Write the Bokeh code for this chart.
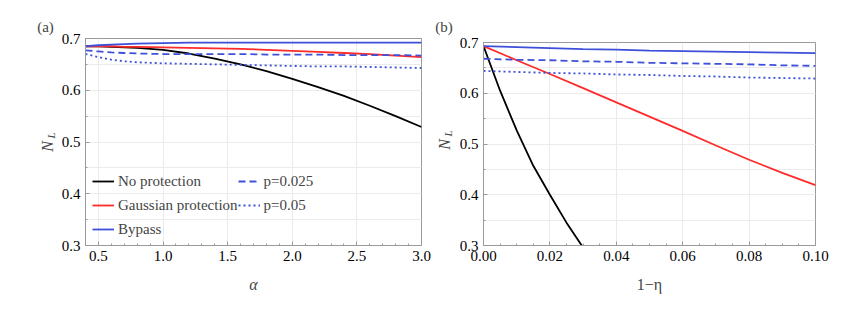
from bokeh.plotting import figure
from bokeh.models import Range1d, FixedTicker, Legend, LegendItem, Label
from bokeh.layouts import row
from bokeh.embed import file_html
from bokeh.resources import INLINE
import math

# ---------------- data: panel (a) ----------------
alpha = [0.4, 0.5, 0.6, 0.7, 0.8, 1.0, 1.2, 1.4, 1.6, 1.8, 2.0, 2.2, 2.4, 2.6, 2.8, 3.0]
a_noprot = [0.685, 0.685, 0.684, 0.683, 0.682, 0.678, 0.671, 0.661, 0.650, 0.637, 0.622, 0.606, 0.589, 0.570, 0.550, 0.529]
a_gauss = [0.685, 0.685, 0.685, 0.684, 0.684, 0.683, 0.682, 0.681, 0.680, 0.678, 0.676, 0.674, 0.672, 0.670, 0.667, 0.664]
a_bypass = [0.685, 0.687, 0.688, 0.689, 0.690, 0.691, 0.692, 0.692, 0.692, 0.692, 0.692, 0.692, 0.692, 0.692, 0.692, 0.692]
a_p025 = [0.677, 0.675, 0.673, 0.672, 0.671, 0.670, 0.670, 0.670, 0.670, 0.669, 0.669, 0.669, 0.668, 0.668, 0.668, 0.667]
a_p05 = [0.670, 0.664, 0.659, 0.656, 0.654, 0.652, 0.651, 0.650, 0.649, 0.648, 0.647, 0.646, 0.646, 0.645, 0.644, 0.643]

# ---------------- data: panel (b) ----------------
eta_black = [0.0, 0.005, 0.01, 0.015, 0.02, 0.025, 0.03]
b_noprot = [0.693, 0.605, 0.527, 0.457, 0.400, 0.345, 0.296]
eta = [0.0, 0.01, 0.02, 0.03, 0.04, 0.05, 0.06, 0.07, 0.08, 0.09, 0.10]
b_gauss = [0.693, 0.665, 0.638, 0.610, 0.582, 0.554, 0.526, 0.497, 0.469, 0.443, 0.419]
b_bypass = [0.693, 0.691, 0.689, 0.687, 0.686, 0.684, 0.683, 0.682, 0.681, 0.680, 0.679]
b_p025 = [0.668, 0.666, 0.665, 0.663, 0.662, 0.660, 0.659, 0.658, 0.657, 0.655, 0.654]
b_p05 = [0.644, 0.642, 0.640, 0.639, 0.637, 0.636, 0.634, 0.633, 0.631, 0.630, 0.629]

# ---------------- ticks ----------------
a_xticks = [0.5, 1.0, 1.5, 2.0, 2.5, 3.0]
a_xlabels = ["0.5", "1.0", "1.5", "2.0", "2.5", "3.0"]
a_xminor = [round(0.4 + 0.1 * i, 2) for i in range(27)]
b_xticks = [0.0, 0.02, 0.04, 0.06, 0.08, 0.10]
b_xlabels = ["0.00", "0.02", "0.04", "0.06", "0.08", "0.10"]
b_xminor = [round(0.005 * i, 3) for i in range(21)]
yticks = [0.3, 0.4, 0.5, 0.6, 0.7]
ylabels = ["0.3", "0.4", "0.5", "0.6", "0.7"]
yminor = [0.3, 0.35, 0.4, 0.45, 0.5, 0.55, 0.6, 0.65, 0.7]

legend_names = ["No protection", "Gaussian protection", "Bypass", "p=0.025", "p=0.05"]

BLACK = "#000000"
RED = "#ff2a2a"
BLUE = "#3e4fd9"
FRAME = "#9a9a9a"
GRID = "#ebebeb"
FONT = "'Liberation Serif', serif"
LW = 1.8
H = 317


def style(p, xt, xl, xm, xlabel):
    p.outline_line_color = FRAME
    p.outline_line_width = 1
    p.background_fill_color = "white"
    p.border_fill_color = "white"
    p.xaxis.ticker = FixedTicker(ticks=xt, minor_ticks=xm)
    p.yaxis.ticker = FixedTicker(ticks=yticks, minor_ticks=yminor)
    p.xaxis.major_label_overrides = {t: l for t, l in zip(xt, xl)}
    p.yaxis.major_label_overrides = {t: l for t, l in zip(yticks, ylabels)}
    for ax in (p.xaxis[0], p.yaxis[0]):
        ax.axis_line_color = FRAME
        ax.major_tick_line_color = FRAME
        ax.minor_tick_line_color = FRAME
        ax.major_tick_in = 4
        ax.major_tick_out = 0
        ax.minor_tick_in = 2
        ax.minor_tick_out = 0
        ax.major_label_text_font = FONT
        ax.major_label_text_font_size = "15px"
        ax.major_label_text_color = "black"
        ax.major_label_standoff = 5
    p.xaxis.axis_label = xlabel
    p.xaxis.axis_label_text_font = FONT
    p.xaxis.axis_label_text_font_size = "16px"
    p.xaxis.axis_label_text_font_style = "italic" if xlabel == "α" else "normal"
    p.xaxis.axis_label_standoff = 12
    p.xgrid.grid_line_color = GRID
    p.ygrid.grid_line_color = GRID
    p.ygrid.minor_grid_line_color = GRID


def gutter(width, tag, tag_x, n_x, n_y):
    """Narrow text-only strip holding the panel tag and the rotated N_L label."""
    g = figure(width=width, height=H, output_backend="svg", toolbar_location=None,
               x_axis_location=None, y_axis_location=None, min_border=0, frame_align=False,
               x_range=Range1d(0, 1), y_range=Range1d(0, 1))
    g.outline_line_color = None
    g.grid.visible = False
    g.add_layout(Label(x=tag_x, y=H - 26, x_units="screen", y_units="screen", text=tag,
                       text_font=FONT, text_font_size="15px",
                       text_align="center", text_baseline="middle"))
    g.add_layout(Label(x=n_x, y=H - n_y, x_units="screen", y_units="screen", text="N",
                       angle=math.pi / 2, text_font=FONT, text_font_style="italic",
                       text_font_size="16px", text_align="center", text_baseline="middle"))
    g.add_layout(Label(x=n_x + 3.5, y=H - n_y + 11, x_units="screen", y_units="screen", text="L",
                       angle=math.pi / 2, text_font=FONT, text_font_style="italic",
                       text_font_size="11px", text_align="center", text_baseline="middle"))
    return g


# ---------------- panel (a) ----------------
p1 = figure(width=28 + 336 + 10, height=H, output_backend="svg", toolbar_location=None,
            x_range=Range1d(0.4, 3.0), y_range=Range1d(0.3, 0.7), frame_align=False,
            min_border_left=28, min_border_right=10, min_border_top=38, min_border_bottom=72)
style(p1, a_xticks, a_xlabels, a_xminor, "α")
r1 = p1.line(alpha, a_noprot, line_color=BLACK, line_width=LW)
r2 = p1.line(alpha, a_gauss, line_color=RED, line_width=LW)
r3 = p1.line(alpha, a_bypass, line_color=BLUE, line_width=LW)
r4 = p1.line(alpha, a_p025, line_color=BLUE, line_width=LW, line_dash="7 4")
r5 = p1.line(alpha, a_p05, line_color=BLUE, line_width=LW, line_dash="2 3")
legend = Legend(items=[LegendItem(label=n, renderers=[r]) for n, r in zip(legend_names, [r1, r2, r3, r4, r5])],
                location=(7, 4), orientation="vertical", nrows=3,
                border_line_color=None, background_fill_alpha=0, margin=0, padding=0, spacing=0,
                glyph_width=22, glyph_height=24, label_height=24, label_standoff=4,
                label_text_font=FONT, label_text_font_size="15px")
p1.add_layout(legend)

# ---------------- panel (b) ----------------
p2 = figure(width=30 + 332 + 15, height=H, output_backend="svg", toolbar_location=None,
            x_range=Range1d(0.0, 0.1), y_range=Range1d(0.3, 0.7), frame_align=False,
            min_border_left=30, min_border_right=15, min_border_top=42, min_border_bottom=72)
style(p2, b_xticks, b_xlabels, b_xminor, "1−η")
p2.line(eta_black, b_noprot, line_color=BLACK, line_width=LW)
p2.line(eta, b_gauss, line_color=RED, line_width=LW)
p2.line(eta, b_bypass, line_color=BLUE, line_width=LW)
p2.line(eta, b_p025, line_color=BLUE, line_width=LW, line_dash="7 4")
p2.line(eta, b_p05, line_color=BLUE, line_width=LW, line_dash="2 3")

ga = gutter(57, "(a)", 45, 47, 146)
gb = gutter(22, "(b)", 12.5, 13, 144)

layout = row(ga, p1, gb, p2, spacing=0)
open("out.html", "w").write(file_html(layout, INLINE))
